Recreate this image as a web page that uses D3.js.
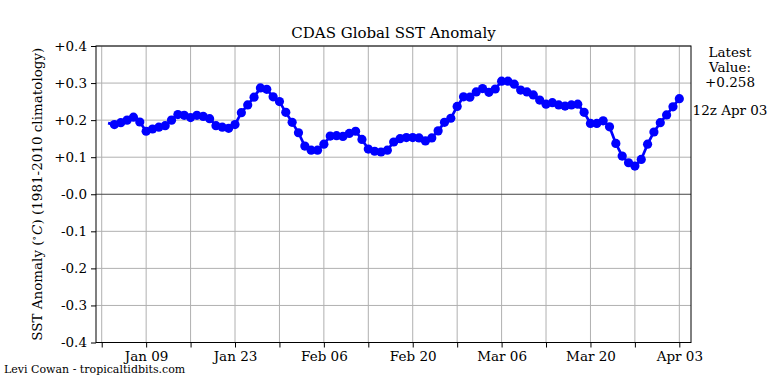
<!DOCTYPE html>
<html>
<head>
<meta charset="utf-8">
<script src="https://cdn.jsdelivr.net/npm/d3@7"></script>
<style>
  body { margin: 0; background: #fff; }
  svg { display: block; font-family: "DejaVu Serif", serif; }
</style>
</head>
<body>
<svg id="chart" width="768" height="384"></svg>
<script>
// daily SST anomaly, first value is Jan 03 (00z), last is Apr 03
const startDate = "2023-01-03";
const anomaly = [
  0.192, 0.188, 0.193, 0.200, 0.208, 0.195, 0.170, 0.176, 0.181, 0.185,
  0.200, 0.215, 0.213, 0.207, 0.213, 0.210, 0.204, 0.185, 0.181, 0.178,
  0.188, 0.220, 0.241, 0.262, 0.287, 0.283, 0.263, 0.250, 0.221, 0.194,
  0.166, 0.130, 0.119, 0.119, 0.135, 0.157, 0.158, 0.156, 0.164, 0.170,
  0.148, 0.122, 0.116, 0.114, 0.119, 0.141, 0.150, 0.153, 0.153, 0.152,
  0.144, 0.152, 0.171, 0.194, 0.205, 0.237, 0.263, 0.262, 0.276, 0.285,
  0.275, 0.284, 0.305, 0.305, 0.297, 0.281, 0.276, 0.268, 0.254, 0.243,
  0.247, 0.241, 0.238, 0.241, 0.243, 0.221, 0.191, 0.191, 0.198, 0.182,
  0.137, 0.103, 0.085, 0.076, 0.094, 0.135, 0.168, 0.193, 0.214, 0.236,
  0.258
];
const yTicks = [0.4, 0.3, 0.2, 0.1, 0.0, -0.1, -0.2, -0.3, -0.4];
const yTickLabels = ["+0.4", "+0.3", "+0.2", "+0.1", "-0.0", "-0.1", "-0.2", "-0.3", "-0.4"];
const xTickDates = ["2023-01-02", "2023-01-09", "2023-01-16", "2023-01-23", "2023-01-30",
  "2023-02-06", "2023-02-13", "2023-02-20", "2023-02-27", "2023-03-06",
  "2023-03-13", "2023-03-20", "2023-03-27", "2023-04-03"];
const xTickLabels = ["", "Jan 09", "", "Jan 23", "", "Feb 06", "", "Feb 20", "",
  "Mar 06", "", "Mar 20", "", "Apr 03"];
const latestLines = ["Latest", "Value:", "+0.258"];
const latestTime = "12z Apr 03";

const parse = d3.utcParse("%Y-%m-%d");
const t0 = parse(startDate);
const data = anomaly.map((v, i) => ({ date: d3.utcDay.offset(t0, i), value: v }));

const plotLeft = 96, plotRight = 691, plotTop = 46, plotBottom = 342.5;

let svg = d3.select("#chart");

let x = d3.scaleUtc()
  .domain([new Date(Date.UTC(2023, 0, 1, 2, 24)), new Date(Date.UTC(2023, 3, 4, 20, 10))])
  .range([plotLeft, plotRight]);

let y = d3.scaleLinear()
  .domain([-0.4, 0.4])
  .range([plotBottom, plotTop]);

let xTicks = xTickDates.map(parse);

// grid
svg.append("g").selectAll("line")
  .data(xTicks).enter().append("line")
  .attr("x1", d => x(d)).attr("x2", d => x(d))
  .attr("y1", plotTop).attr("y2", plotBottom)
  .attr("stroke", "#b0b0b0").attr("stroke-width", 1);

svg.append("g").selectAll("line")
  .data(yTicks).enter().append("line")
  .attr("x1", plotLeft).attr("x2", plotRight)
  .attr("y1", d => y(d)).attr("y2", d => y(d))
  .attr("stroke", d => d === 0 ? "#444" : "#b0b0b0")
  .attr("stroke-width", 1);

// axes
let xAxis = d3.axisBottom(x)
  .tickValues(xTicks)
  .tickSize(5)
  .tickPadding(4)
  .tickFormat((d, i) => xTickLabels[i]);

let yAxis = d3.axisLeft(y)
  .tickValues(yTicks)
  .tickSize(5)
  .tickPadding(4)
  .tickFormat((d, i) => yTickLabels[i]);

let gx = svg.append("g")
  .attr("transform", `translate(0,${plotBottom})`)
  .call(xAxis);
let gy = svg.append("g")
  .attr("transform", `translate(${plotLeft},0)`)
  .call(yAxis);

[gx, gy].forEach(g => {
  g.select(".domain").remove();
  g.selectAll("line").attr("stroke", "#000");
  g.selectAll("text")
    .attr("fill", "#000")
    .style("font-family", "DejaVu Serif")
    .style("font-size", "13.5px");
});

// frame
svg.append("rect")
  .attr("x", plotLeft).attr("y", plotTop)
  .attr("width", plotRight - plotLeft).attr("height", plotBottom - plotTop)
  .attr("fill", "none").attr("stroke", "#000").attr("stroke-width", 1);

// series
let line = d3.line()
  .x(d => x(d.date))
  .y(d => y(d.value));

svg.append("path")
  .datum(data)
  .attr("d", line)
  .attr("fill", "none")
  .attr("stroke", "#0000ff")
  .attr("stroke-width", 2.7)
  .attr("stroke-linejoin", "round");

svg.append("g").selectAll("circle")
  .data(data.slice(1)).enter().append("circle")
  .attr("cx", d => x(d.date))
  .attr("cy", d => y(d.value))
  .attr("r", 4.6)
  .attr("fill", "#0000ff");

// texts
svg.append("text")
  .attr("x", (plotLeft + plotRight) / 2).attr("y", 38)
  .attr("text-anchor", "middle")
  .style("font-size", "15px")
  .text("CDAS Global SST Anomaly");

let ylab = svg.append("text")
  .attr("transform", `translate(42,${(plotTop + plotBottom) / 2}) rotate(-90)`)
  .attr("text-anchor", "middle")
  .style("font-size", "13.5px");
ylab.append("tspan").text("SST Anomaly (");
ylab.append("tspan").attr("dy", -5).style("font-size", "9px").text("\u2218");
ylab.append("tspan").attr("dy", 5).attr("dx", 1).style("font-style", "italic").text("C");
ylab.append("tspan").text(") (1981-2010 climatology)");

svg.append("g").selectAll("text")
  .data(latestLines).enter().append("text")
  .attr("x", 730)
  .attr("y", (d, i) => 57 + i * 15)
  .attr("text-anchor", "middle")
  .style("font-size", "13.5px")
  .text(d => d);

svg.append("text")
  .attr("x", 730).attr("y", 115)
  .attr("text-anchor", "middle")
  .style("font-size", "13.5px")
  .text(latestTime);

svg.append("text")
  .attr("x", 4).attr("y", 373)
  .style("font-size", "11px")
  .text("Levi Cowan - tropicaltidbits.com");
</script>
</body>
</html>
